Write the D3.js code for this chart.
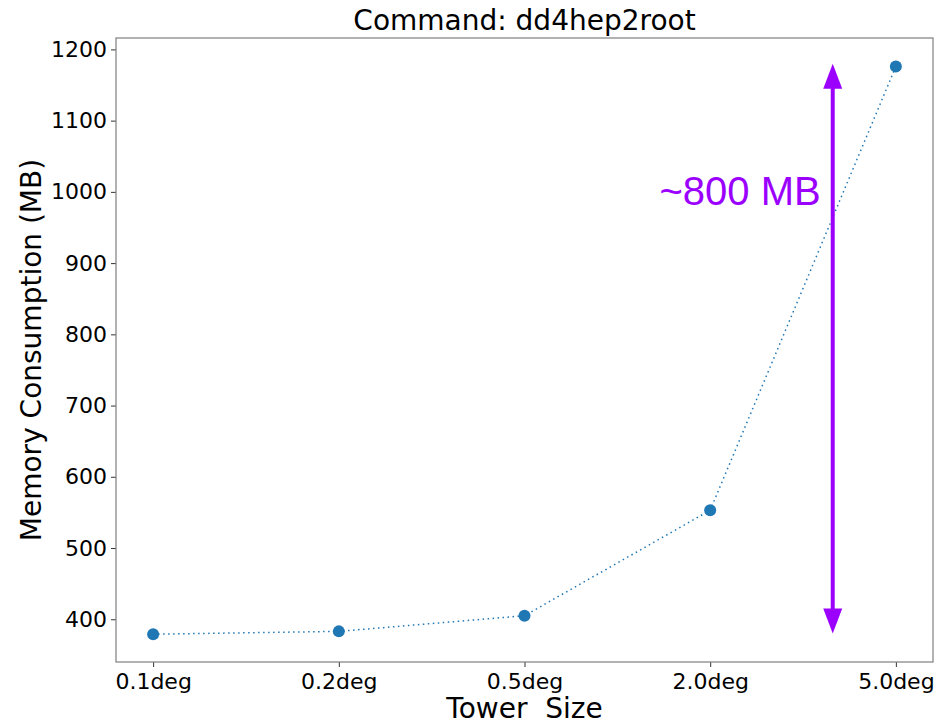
<!DOCTYPE html>
<html>
<head>
<meta charset="utf-8">
<script src="https://cdn.jsdelivr.net/npm/d3@7"></script>
<style>
  html, body { margin: 0; padding: 0; background: #fff; }
  svg { display: block; font-family: "DejaVu Sans", sans-serif; }
</style>
</head>
<body>
<svg id="chart" width="937" height="724"></svg>
<script>
// Memory usage of dd4hep2root for different tower sizes
const towerSizes = ["0.1deg", "0.2deg", "0.5deg", "2.0deg", "5.0deg"];
const memoryMB = [379, 383, 405, 553, 1176];
const yTicks = [400, 500, 600, 700, 800, 900, 1000, 1100, 1200];
const spanArrow = { at: 3.66, from: 380, to: 1180, label: "~800 MB" };

const svg = d3.select("#chart");
const plotLeft = 116, plotRight = 933, plotTop = 38, plotBottom = 662;

const x = d3.scaleLinear().domain([-0.2, 4.2]).range([plotLeft, plotRight]);
const y = d3.scaleLinear().domain([340, 1216]).range([plotBottom, plotTop]);

// Axes
const xAxis = d3.axisBottom(x)
  .tickValues(towerSizes.map((d, i) => i))
  .tickFormat(i => towerSizes[i])
  .tickSize(5).tickPadding(4);
const yAxis = d3.axisLeft(y).tickValues(yTicks).tickFormat(d3.format("d"))
  .tickSize(5).tickPadding(4);

const gx = svg.append("g").attr("transform", `translate(0,${plotBottom})`).call(xAxis);
const gy = svg.append("g").attr("transform", `translate(${plotLeft},0)`).call(yAxis);
[gx, gy].forEach(g => {
  g.select(".domain").remove();
  g.selectAll(".tick line").attr("stroke", "#333").attr("stroke-width", 1);
  g.selectAll(".tick text").attr("fill", "#000").style("font-size", "22px")
    .style("font-family", "DejaVu Sans, sans-serif");
});
gx.selectAll(".tick text").attr("dy", "0.8em");

// Frame
svg.append("rect")
  .attr("x", plotLeft).attr("y", plotTop)
  .attr("width", plotRight - plotLeft).attr("height", plotBottom - plotTop)
  .attr("fill", "none").attr("stroke", "#7f7f7f").attr("stroke-width", 1.2);

// Dotted connecting line
const line = d3.line().x((d, i) => x(i)).y(d => y(d));
svg.append("path")
  .datum(memoryMB)
  .attr("d", line)
  .attr("fill", "none")
  .attr("stroke", "#1f77b4")
  .attr("stroke-width", 1.5)
  .attr("stroke-dasharray", "1.5,3.5")
  .attr("stroke-linecap", "butt");

// Markers
svg.selectAll("circle.pt")
  .data(memoryMB)
  .join("circle")
  .attr("class", "pt")
  .attr("cx", (d, i) => x(i))
  .attr("cy", d => y(d))
  .attr("r", 6)
  .attr("fill", "#1f77b4");

// Double-headed span arrow
const purple = "#9b00ff";
const ax = x(spanArrow.at);
const yTop = y(spanArrow.to), yBot = y(spanArrow.from);
const headLen = 25, headHalf = 9.5;
svg.append("line")
  .attr("x1", ax).attr("x2", ax)
  .attr("y1", yTop + headLen - 2).attr("y2", yBot - headLen + 2)
  .attr("stroke", purple).attr("stroke-width", 4);
svg.append("path")
  .attr("d", `M${ax},${yTop} L${ax - headHalf},${yTop + headLen} L${ax + headHalf},${yTop + headLen} Z`)
  .attr("fill", purple);
svg.append("path")
  .attr("d", `M${ax},${yBot} L${ax - headHalf},${yBot - headLen} L${ax + headHalf},${yBot - headLen} Z`)
  .attr("fill", purple);

svg.append("text")
  .attr("x", ax - 12).attr("y", y(1000) + 13)
  .attr("text-anchor", "end")
  .attr("fill", purple)
  .style("font-family", "Liberation Sans, Arial, sans-serif")
  .style("font-size", "40px")
  .text(spanArrow.label);

// Title and axis labels
svg.append("text")
  .attr("x", (plotLeft + plotRight) / 2).attr("y", 30)
  .attr("text-anchor", "middle")
  .style("font-size", "28px")
  .text("Command: dd4hep2root");

svg.append("text")
  .attr("x", (plotLeft + plotRight) / 2).attr("y", 718)
  .attr("text-anchor", "middle")
  .style("font-size", "28px")
  .style("white-space", "pre")
  .text("Tower  Size");

svg.append("text")
  .attr("transform", `translate(41,${(plotTop + plotBottom) / 2}) rotate(-90)`)
  .attr("text-anchor", "middle")
  .style("font-size", "28px")
  .text("Memory Consumption (MB)");
</script>
</body>
</html>
